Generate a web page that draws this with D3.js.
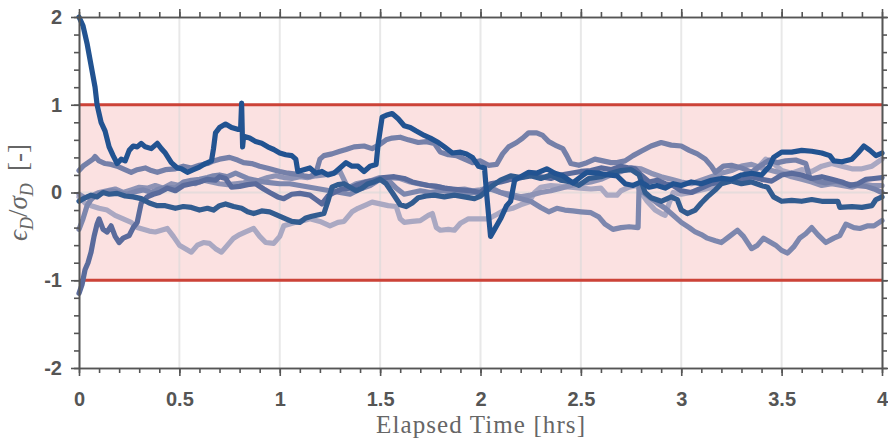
<!DOCTYPE html>
<html>
<head>
<meta charset="utf-8">
<script src="https://cdn.jsdelivr.net/npm/d3@7"></script>
<style>
  body { margin: 0; background: #fff; }
  .tick text { font-family: "Liberation Sans", Arial, sans-serif; font-weight: bold; font-size: 20px; fill: #555; }
  .axis path, .axis line { stroke: #555; stroke-width: 1.6; }
</style>
</head>
<body>
<script>
// tick values and labels
var xMajor = [0, 0.5, 1, 1.5, 2, 2.5, 3, 3.5, 4];
var xTickLabels = ["0", "0.5", "1", "1.5", "2", "2.5", "3", "3.5", "4"];
var xMinor = d3.range(0, 41).map(function(i) { return i / 10; });
var yMajor = [-2, -1, 0, 1, 2];
var yTickLabels = ["-2", "-1", "0", "1", "2"];
var yMinor = d3.range(-10, 11).map(function(i) { return i / 5; });

// tolerance band
var bandLow = -1, bandHigh = 1;

// normalised error runs [hrs, value]
var run1 = [[0,2.0],[0.02,1.9],[0.04,1.7],[0.06,1.45],[0.08,1.2],[0.09,1.0],[0.11,0.8],[0.13,0.7],[0.15,0.52],[0.17,0.42],[0.19,0.33],[0.21,0.38],[0.23,0.36],[0.25,0.48],[0.27,0.53],[0.29,0.52],[0.31,0.56],[0.33,0.52],[0.36,0.5],[0.39,0.56],[0.41,0.5],[0.43,0.45],[0.46,0.34],[0.49,0.28],[0.51,0.27],[0.54,0.23],[0.57,0.26],[0.6,0.29],[0.63,0.33],[0.66,0.36],[0.67,0.5],[0.68,0.68],[0.7,0.74],[0.73,0.78],[0.76,0.74],[0.79,0.72],[0.805,0.72],[0.81,1.02],[0.815,0.52],[0.82,0.64],[0.85,0.62],[0.88,0.58],[0.91,0.56],[0.94,0.52],[0.97,0.49],[1.0,0.45],[1.03,0.43],[1.06,0.42],[1.08,0.38],[1.09,0.24],[1.12,0.26],[1.15,0.28],[1.18,0.22],[1.21,0.24],[1.24,0.2],[1.27,0.22],[1.3,0.28],[1.33,0.34],[1.36,0.3],[1.39,0.3],[1.42,0.24],[1.45,0.3],[1.48,0.32],[1.49,0.55],[1.51,0.86],[1.53,0.88],[1.56,0.9],[1.59,0.84],[1.62,0.76],[1.65,0.74],[1.68,0.7],[1.72,0.65],[1.75,0.62],[1.79,0.57],[1.82,0.52],[1.86,0.45],[1.9,0.46],[1.93,0.44],[1.96,0.4],[1.99,0.3],[2.02,0.28],[2.03,0.0],[2.05,-0.5],[2.07,-0.42],[2.1,-0.3],[2.13,-0.15],[2.15,-0.1],[2.17,0.14],[2.2,0.18],[2.24,0.23],[2.28,0.22],[2.33,0.27],[2.37,0.22],[2.41,0.19],[2.46,0.11],[2.5,0.18],[2.53,0.23],[2.59,0.22],[2.64,0.2],[2.68,0.19],[2.72,0.1],[2.76,0.08],[2.8,0.12],[2.84,0.06],[2.88,0.08],[2.92,0.05],[2.96,0.1],[3.0,0.08],[3.05,0.12],[3.1,0.1],[3.15,0.14],[3.2,0.16],[3.25,0.15],[3.3,0.2],[3.35,0.22],[3.4,0.2],[3.44,0.3],[3.46,0.4],[3.5,0.46],[3.55,0.46],[3.6,0.48],[3.65,0.47],[3.7,0.45],[3.74,0.42],[3.76,0.36],[3.8,0.35],[3.85,0.38],[3.88,0.45],[3.91,0.53],[3.94,0.48],[3.97,0.42],[4.0,0.45]];
var run2 = [[0,-0.1],[0.03,-0.06],[0.06,-0.03],[0.09,-0.05],[0.12,0.0],[0.15,-0.02],[0.19,-0.01],[0.23,-0.04],[0.27,-0.05],[0.31,-0.07],[0.35,-0.12],[0.39,-0.15],[0.43,-0.15],[0.48,-0.18],[0.52,-0.16],[0.56,-0.17],[0.6,-0.2],[0.64,-0.18],[0.67,-0.2],[0.7,-0.15],[0.73,-0.13],[0.77,-0.16],[0.81,-0.18],[0.84,-0.22],[0.87,-0.24],[0.91,-0.21],[0.95,-0.22],[0.99,-0.26],[1.03,-0.3],[1.06,-0.33],[1.1,-0.34],[1.13,-0.29],[1.16,-0.27],[1.2,-0.25],[1.22,-0.24],[1.24,-0.1],[1.26,0.06],[1.29,0.09],[1.32,0.1],[1.35,0.06],[1.38,0.02],[1.41,0.05],[1.44,0.1],[1.47,0.12],[1.5,0.15],[1.53,0.1],[1.56,0.0],[1.6,-0.14],[1.63,-0.16],[1.66,-0.12],[1.69,-0.06],[1.73,-0.04],[1.77,-0.03],[1.82,-0.05],[1.87,-0.03],[1.92,-0.05],[1.97,-0.07],[2.0,-0.04],[2.05,0.06],[2.1,0.14],[2.15,0.19],[2.2,0.17],[2.25,0.19],[2.3,0.16],[2.35,0.2],[2.4,0.14],[2.45,0.12],[2.49,0.08],[2.54,0.16],[2.6,0.18],[2.65,0.22],[2.7,0.25],[2.75,0.26],[2.79,0.2],[2.82,0.0],[2.85,-0.06],[2.9,-0.1],[2.95,-0.05],[2.98,-0.08],[3.0,-0.2],[3.03,-0.24],[3.07,-0.2],[3.1,-0.12],[3.13,-0.05],[3.17,0.03],[3.2,0.1],[3.25,0.13],[3.3,0.1],[3.35,0.12],[3.4,0.08],[3.43,0.06],[3.46,-0.05],[3.5,-0.1],[3.55,-0.09],[3.6,-0.1],[3.65,-0.08],[3.7,-0.1],[3.75,-0.1],[3.78,-0.1],[3.79,-0.17],[3.85,-0.16],[3.9,-0.17],[3.95,-0.15],[3.97,-0.08],[4.0,-0.05]];
var run3 = [[0,0.25],[0.02,0.3],[0.045,0.34],[0.07,0.38],[0.08,0.41],[0.1,0.36],[0.13,0.33],[0.16,0.32],[0.19,0.3],[0.22,0.27],[0.26,0.23],[0.29,0.26],[0.33,0.28],[0.36,0.25],[0.39,0.23],[0.43,0.26],[0.48,0.27],[0.52,0.3],[0.56,0.28],[0.6,0.31],[0.64,0.33],[0.67,0.36],[0.7,0.38],[0.75,0.4],[0.79,0.37],[0.82,0.34],[0.86,0.33],[0.9,0.3],[0.95,0.27],[1.0,0.24],[1.04,0.22],[1.08,0.21],[1.12,0.19],[1.15,0.18],[1.18,0.22],[1.2,0.38],[1.22,0.42],[1.26,0.44],[1.3,0.47],[1.33,0.49],[1.37,0.52],[1.42,0.53],[1.46,0.5],[1.5,0.55],[1.53,0.6],[1.56,0.62],[1.6,0.63],[1.64,0.6],[1.69,0.57],[1.73,0.58],[1.77,0.56],[1.8,0.46],[1.84,0.43],[1.88,0.42],[1.92,0.38],[1.96,0.34],[2.0,0.36],[2.04,0.31],[2.08,0.32],[2.11,0.44],[2.14,0.52],[2.18,0.57],[2.21,0.62],[2.24,0.68],[2.28,0.68],[2.31,0.65],[2.34,0.58],[2.38,0.53],[2.41,0.5],[2.43,0.42],[2.45,0.33],[2.49,0.31],[2.53,0.34],[2.57,0.38],[2.61,0.36],[2.65,0.34],[2.68,0.34],[2.72,0.36],[2.76,0.42],[2.8,0.47],[2.85,0.53],[2.9,0.57],[2.95,0.54],[3.0,0.53],[3.04,0.48],[3.08,0.44],[3.12,0.38],[3.15,0.3],[3.17,0.23],[3.21,0.3],[3.25,0.31],[3.3,0.28],[3.35,0.23],[3.39,0.3],[3.44,0.37],[3.48,0.34],[3.52,0.36],[3.57,0.37],[3.62,0.33],[3.64,0.17],[3.68,0.13],[3.72,0.11],[3.77,0.13],[3.82,0.1],[3.87,0.08],[3.92,0.07],[3.96,0.04],[4.0,0.0]];
var run4 = [[0,-1.15],[0.015,-1.05],[0.03,-0.88],[0.045,-0.8],[0.06,-0.68],[0.075,-0.5],[0.09,-0.36],[0.1,-0.3],[0.12,-0.42],[0.14,-0.45],[0.16,-0.38],[0.18,-0.5],[0.2,-0.57],[0.22,-0.52],[0.25,-0.49],[0.27,-0.4],[0.29,-0.34],[0.31,-0.12],[0.34,-0.05],[0.37,-0.02],[0.4,0.0],[0.44,0.05],[0.48,0.02],[0.52,0.08],[0.56,0.1],[0.6,0.12],[0.64,0.15],[0.68,0.14],[0.7,0.18],[0.73,0.16],[0.76,0.06],[0.8,0.07],[0.84,0.09],[0.88,0.1],[0.92,0.04],[0.95,0.0],[0.99,-0.05],[1.02,-0.07],[1.06,-0.02],[1.1,-0.01],[1.15,-0.03],[1.18,-0.08],[1.21,-0.13],[1.24,-0.04],[1.27,0.0],[1.31,0.04],[1.35,0.05],[1.39,0.09],[1.43,0.12],[1.47,0.14],[1.52,0.17],[1.57,0.18],[1.62,0.16],[1.66,0.12],[1.7,0.1],[1.74,0.08],[1.78,0.07],[1.82,0.05],[1.86,0.04],[1.9,0.03],[1.95,0.02],[2.0,0.0],[2.05,0.1],[2.1,0.12],[2.15,0.15],[2.2,0.17],[2.25,0.2],[2.3,0.18],[2.35,0.16],[2.4,0.2],[2.45,0.22],[2.5,0.24],[2.55,0.25],[2.6,0.28],[2.65,0.26],[2.7,0.3],[2.74,0.28],[2.77,0.27],[2.8,0.2],[2.84,0.12],[2.88,0.14],[2.92,0.1],[2.96,0.08],[3.0,0.02],[3.05,0.0],[3.1,0.05],[3.15,0.1],[3.2,0.12],[3.25,0.15],[3.3,0.14],[3.35,0.18],[3.4,0.15],[3.45,0.13],[3.5,0.2],[3.55,0.22],[3.6,0.2],[3.65,0.16],[3.7,0.18],[3.75,0.15],[3.8,0.12],[3.84,0.08],[3.88,0.1],[3.92,0.15],[3.96,0.16],[4.0,0.17]];
var run5 = [[0,-0.02],[0.03,-0.06],[0.06,-0.04],[0.1,0.0],[0.14,0.02],[0.18,0.04],[0.22,0.0],[0.26,0.03],[0.3,0.06],[0.34,0.05],[0.38,0.08],[0.42,0.05],[0.46,0.1],[0.5,0.08],[0.54,0.12],[0.58,0.1],[0.62,0.14],[0.66,0.12],[0.7,0.1],[0.74,0.09],[0.78,0.1],[0.82,0.11],[0.86,0.13],[0.9,0.14],[0.94,0.17],[0.98,0.19],[1.02,0.17],[1.06,0.16],[1.1,0.18],[1.14,0.17],[1.18,0.19],[1.22,0.2],[1.26,0.22],[1.3,0.24],[1.34,0.05],[1.38,0.1],[1.42,0.12],[1.46,0.14],[1.5,0.17],[1.55,0.17],[1.6,0.16],[1.65,0.12],[1.69,0.1],[1.74,0.08],[1.78,0.07],[1.82,0.05],[1.87,0.03],[1.92,0.04],[1.96,0.02],[2.0,0.03],[2.05,0.06],[2.1,0.0],[2.15,-0.02],[2.2,-0.05],[2.25,-0.03],[2.3,0.0],[2.35,0.02],[2.4,0.05],[2.45,0.08],[2.5,0.1],[2.55,0.12],[2.6,0.15],[2.65,0.2],[2.7,0.24],[2.75,0.28],[2.8,0.27],[2.85,0.22],[2.9,0.18],[2.95,0.15],[3.0,0.12],[3.05,0.1],[3.1,0.14],[3.15,0.18],[3.2,0.22],[3.25,0.25],[3.3,0.3],[3.35,0.32],[3.4,0.28],[3.45,0.25],[3.5,0.22],[3.55,0.18],[3.6,0.15],[3.65,0.12],[3.7,0.08],[3.75,0.1],[3.8,0.08],[3.85,0.06],[3.9,0.1],[3.95,0.08],[4.0,0.08]];
var run6 = [[0,-0.05],[0.03,-0.12],[0.06,-0.15],[0.1,-0.18],[0.14,-0.2],[0.18,-0.26],[0.22,-0.3],[0.26,-0.34],[0.29,-0.4],[0.32,-0.42],[0.35,-0.44],[0.38,-0.45],[0.41,-0.43],[0.44,-0.41],[0.47,-0.5],[0.5,-0.6],[0.53,-0.64],[0.56,-0.68],[0.59,-0.6],[0.62,-0.57],[0.65,-0.58],[0.68,-0.64],[0.71,-0.68],[0.74,-0.6],[0.77,-0.52],[0.8,-0.48],[0.83,-0.45],[0.87,-0.41],[0.9,-0.5],[0.93,-0.57],[0.97,-0.58],[1.0,-0.5],[1.02,-0.38],[1.05,-0.36],[1.08,-0.34],[1.12,-0.32],[1.15,-0.3],[1.2,-0.33],[1.25,-0.38],[1.29,-0.34],[1.32,-0.33],[1.36,-0.22],[1.39,-0.18],[1.43,-0.14],[1.46,-0.11],[1.5,-0.13],[1.54,-0.15],[1.58,-0.16],[1.6,-0.3],[1.62,-0.34],[1.66,-0.33],[1.7,-0.32],[1.74,-0.26],[1.76,-0.24],[1.78,-0.4],[1.8,-0.43],[1.84,-0.42],[1.87,-0.43],[1.9,-0.35],[1.94,-0.3],[1.97,-0.3],[2.0,-0.3],[2.04,-0.3],[2.08,-0.25],[2.12,-0.2],[2.16,-0.18],[2.2,-0.14],[2.24,-0.11],[2.27,0.0],[2.3,0.06],[2.35,0.08],[2.4,0.07],[2.45,0.06],[2.5,0.05],[2.55,0.04],[2.6,0.05],[2.63,-0.03],[2.68,-0.03],[2.7,0.02],[2.74,0.06],[2.78,0.08],[2.8,0.0],[2.83,-0.1],[2.87,-0.2],[2.9,-0.24],[2.92,-0.26],[2.94,-0.12],[2.96,0.0],[3.0,-0.02],[3.05,0.0],[3.1,0.03],[3.14,0.05],[3.18,0.1],[3.22,0.12],[3.27,0.15],[3.31,0.17],[3.35,0.19],[3.38,0.28],[3.42,0.38],[3.46,0.33],[3.5,0.25],[3.55,0.22],[3.6,0.26],[3.65,0.24],[3.7,0.3],[3.75,0.33],[3.8,0.3],[3.85,0.27],[3.9,0.27],[3.95,0.3],[4.0,0.38]];
var run7 = [[0,-0.42],[0.02,-0.3],[0.04,-0.15],[0.06,-0.08],[0.09,-0.02],[0.12,0.0],[0.16,0.02],[0.2,0.0],[0.24,-0.02],[0.28,0.01],[0.32,0.03],[0.36,0.0],[0.4,0.04],[0.44,0.06],[0.48,0.05],[0.52,0.12],[0.56,0.14],[0.6,0.15],[0.64,0.17],[0.67,0.19],[0.7,0.2],[0.74,0.18],[0.78,0.22],[0.8,0.2],[0.84,0.16],[0.88,0.14],[0.92,0.12],[0.96,0.11],[1.0,0.1],[1.05,0.1],[1.1,0.08],[1.15,0.06],[1.2,0.04],[1.25,0.02],[1.3,0.0],[1.35,-0.02],[1.4,0.04],[1.45,0.08],[1.5,0.15],[1.55,0.12],[1.58,0.05],[1.62,-0.02],[1.66,0.0],[1.7,0.02],[1.75,0.0],[1.8,0.02],[1.85,0.01],[1.9,0.0],[1.95,0.0],[2.0,0.0],[2.05,0.04],[2.1,0.0],[2.15,-0.04],[2.2,-0.07],[2.25,-0.1],[2.3,-0.17],[2.34,-0.22],[2.38,-0.18],[2.42,-0.2],[2.46,-0.21],[2.5,-0.22],[2.55,-0.23],[2.59,-0.28],[2.62,-0.36],[2.66,-0.42],[2.7,-0.4],[2.74,-0.39],[2.785,-0.4],[2.79,0.08],[2.81,0.0],[2.84,-0.05],[2.88,-0.12],[2.92,-0.18],[2.96,-0.26],[3.0,-0.34],[3.04,-0.4],[3.07,-0.45],[3.1,-0.48],[3.13,-0.52],[3.17,-0.55],[3.2,-0.57],[3.24,-0.5],[3.28,-0.43],[3.31,-0.5],[3.35,-0.64],[3.38,-0.6],[3.41,-0.52],[3.44,-0.56],[3.47,-0.6],[3.5,-0.66],[3.53,-0.69],[3.56,-0.62],[3.59,-0.52],[3.62,-0.47],[3.65,-0.4],[3.68,-0.48],[3.72,-0.57],[3.76,-0.52],[3.79,-0.49],[3.82,-0.36],[3.86,-0.4],[3.89,-0.41],[3.93,-0.38],[3.96,-0.38],[4.0,-0.32]];

var runs = [run6, run5, run7, run3, run4, run2, run1];
var runColors = ["#aaa8c2", "#8e93b5", "#7d87ae", "#7580a9", "#5a6b9c", "#325c90", "#225391"];

// set the dimensions and margins of the graph
var margin = {top: 17, right: 6, bottom: 75, left: 79},
    width = 888 - margin.left - margin.right,
    height = 443 - margin.top - margin.bottom;

var svg = d3.select("body").append("svg")
    .attr("width", 888)
    .attr("height", 443)
  .append("g")
    .attr("transform", "translate(" + margin.left + "," + margin.top + ")");

var x = d3.scaleLinear().domain([0, 4]).range([0, width]);
var y = d3.scaleLinear().domain([-2, 2]).range([height, 0]);

// shaded band
svg.append("rect")
    .attr("x", 0)
    .attr("y", y(bandHigh))
    .attr("width", width)
    .attr("height", y(bandLow) - y(bandHigh))
    .attr("fill", "#fbe1e1");

// grid
svg.selectAll(".vgrid")
    .data(xMajor.slice(1, -1))
  .enter().append("line")
    .attr("x1", function(d) { return x(d); })
    .attr("x2", function(d) { return x(d); })
    .attr("y1", 0)
    .attr("y2", height)
    .attr("stroke", "#d9d9d9")
    .attr("stroke-opacity", 0.6)
    .attr("stroke-width", 2);

svg.selectAll(".hgrid")
    .data(yMajor.slice(1, -1))
  .enter().append("line")
    .attr("x1", 0)
    .attr("x2", width)
    .attr("y1", function(d) { return y(d); })
    .attr("y2", function(d) { return y(d); })
    .attr("stroke", "#d9d9d9")
    .attr("stroke-opacity", 0.6)
    .attr("stroke-width", 2);

// band limits
svg.selectAll(".limit")
    .data([bandLow, bandHigh])
  .enter().append("line")
    .attr("x1", 0)
    .attr("x2", width)
    .attr("y1", function(d) { return y(d); })
    .attr("y2", function(d) { return y(d); })
    .attr("stroke", "#cc4338")
    .attr("stroke-width", 3);

// the runs
var line = d3.line()
    .x(function(d) { return x(d[0]); })
    .y(function(d) { return y(d[1]); });

svg.selectAll(".run")
    .data(runs)
  .enter().append("path")
    .attr("d", line)
    .attr("fill", "none")
    .attr("stroke", function(d, i) { return runColors[i]; })
    .attr("stroke-width", 5.2)
    .attr("stroke-linejoin", "round")
    .attr("stroke-linecap", "round");

// axes: major + minor ticks, pointing outwards on all four sides
function addAxis(axis, transform) {
  var g = svg.append("g").attr("class", "axis").attr("transform", transform).call(axis);
  return g;
}

addAxis(d3.axisBottom(x).tickValues(xMinor).tickSize(5).tickSizeOuter(0).tickFormat(""),
        "translate(0," + height + ")");
addAxis(d3.axisBottom(x).tickValues(xMajor).tickSize(8).tickSizeOuter(0).tickPadding(16)
        .tickFormat(function(d, i) { return xTickLabels[i]; }),
        "translate(0," + height + ")");
addAxis(d3.axisTop(x).tickValues(xMinor).tickSize(5).tickSizeOuter(0).tickFormat(""), "translate(0,0)");
addAxis(d3.axisTop(x).tickValues(xMajor).tickSize(8).tickSizeOuter(0).tickFormat(""), "translate(0,0)");
addAxis(d3.axisLeft(y).tickValues(yMinor).tickSize(5).tickSizeOuter(0).tickFormat(""), "translate(0,0)");
addAxis(d3.axisLeft(y).tickValues(yMajor).tickSize(8).tickSizeOuter(0).tickPadding(9)
        .tickFormat(function(d, i) { return yTickLabels[i]; }), "translate(0,0)");
addAxis(d3.axisRight(y).tickValues(yMinor).tickSize(5).tickSizeOuter(0).tickFormat(""),
        "translate(" + width + ",0)");
addAxis(d3.axisRight(y).tickValues(yMajor).tickSize(8).tickSizeOuter(0).tickFormat(""),
        "translate(" + width + ",0)");

// x label
svg.append("text")
    .attr("x", width / 2)
    .attr("y", height + 65)
    .style("text-anchor", "middle")
    .style("font-family", "'Liberation Serif', 'DejaVu Serif', serif")
    .style("font-size", "25px")
    .style("fill", "#666")
    .attr("textLength", 209)
    .text("Elapsed Time [hrs]");

// y label
var ylab = svg.append("text")
    .attr("transform", "translate(" + (-52) + "," + (height / 2) + ") rotate(-90)")
    .style("text-anchor", "middle")
    .style("font-family", "'Liberation Serif', 'DejaVu Serif', serif")
    .style("font-size", "27px")
    .style("fill", "#666");
ylab.append("tspan").style("font-style", "italic").text("\u03F5");
ylab.append("tspan").style("font-style", "italic").style("font-size", "18px").attr("dy", 6).text("D");
ylab.append("tspan").attr("dy", -6).text("/");
ylab.append("tspan").style("font-style", "italic").text("\u03C3");
ylab.append("tspan").style("font-style", "italic").style("font-size", "18px").attr("dy", 6).text("D");
ylab.append("tspan").attr("dy", -6).text("\u2009 [-]");
</script>
</body>
</html>
